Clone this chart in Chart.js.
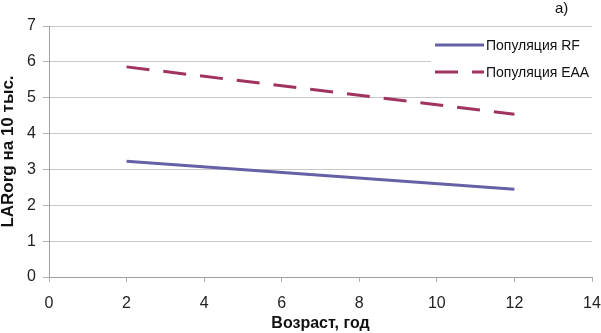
<!DOCTYPE html>
<html>
<head>
<meta charset="utf-8">
<script src="https://cdn.jsdelivr.net/npm/chart.js@4.4.0/dist/chart.umd.min.js"></script>
<style>
html,body{margin:0;padding:0;background:#fff;}
#wrap{width:601px;height:333px;}
</style>
</head>
<body>
<div id="wrap"><canvas id="c" width="601" height="333"></canvas></div>
<script>
const ages = [2, 12];
const rfValues = [3.23, 2.45];
const eaaValues = [5.86, 4.54];
const seriesLabels = ['Популяция RF', 'Популяция EAA'];
const xTitle = 'Возраст, год';
const yTitle = 'LARorg на 10 тыс.';
const panelLabel = 'а)';

const FONT = "'Liberation Sans', Arial, sans-serif";

const legendPlugin = {
  id: 'insideLegend',
  afterDatasetsDraw(chart) {
    const ctx = chart.ctx;
    ctx.save();
    ctx.fillStyle = '#fff';
    ctx.fillRect(431, 34, 165, 50);
    const rows = [45, 72];
    chart.data.datasets.forEach((ds, i) => {
      const y = rows[i];
      ctx.strokeStyle = ds.borderColor;
      ctx.lineWidth = ds.borderWidth;
      ctx.setLineDash(ds.borderDash || []);
      ctx.beginPath();
      ctx.moveTo(435, y);
      ctx.lineTo(484, y);
      ctx.stroke();
      ctx.setLineDash([]);
      ctx.fillStyle = '#111';
      ctx.font = '14px ' + FONT;
      ctx.textBaseline = 'middle';
      ctx.textAlign = 'left';
      ctx.fillText(ds.label, 486, y + 1);
    });
    ctx.font = '15px ' + FONT;
    ctx.fillStyle = '#111';
    ctx.textAlign = 'left';
    ctx.textBaseline = 'middle';
    ctx.fillText(panelLabel, 555, 9);
    ctx.restore();
  }
};

new Chart(document.getElementById('c'), {
  type: 'scatter',
  data: {
    datasets: [
      {
        label: seriesLabels[0],
        data: ages.map((a, i) => ({x: a, y: rfValues[i]})),
        showLine: true,
        borderColor: '#6561a6',
        backgroundColor: '#6561a6',
        borderWidth: 3,
        pointRadius: 0,
        borderCapStyle: 'butt'
      },
      {
        label: seriesLabels[1],
        data: ages.map((a, i) => ({x: a, y: eaaValues[i]})),
        showLine: true,
        borderColor: '#a0335f',
        backgroundColor: '#a0335f',
        borderWidth: 3,
        borderDash: [23, 14],
        pointRadius: 0,
        borderCapStyle: 'butt'
      }
    ]
  },
  options: {
    responsive: false,
    animation: false,
    layout: {padding: {left: 0, right: 9, top: 26, bottom: 0}},
    plugins: {legend: {display: false}, tooltip: {enabled: false}},
    scales: {
      x: {
        type: 'linear',
        min: 0, max: 14,
        ticks: {stepSize: 2, color: '#222', font: {family: FONT, size: 16}, padding: 12, maxRotation: 0},
        grid: {drawOnChartArea: false, color: '#b0b0b0', tickLength: 5, tickColor: '#b0b0b0'},
        border: {color: '#a0a0a0'},
        title: {display: true, text: xTitle, color: '#111', font: {family: FONT, size: 16, weight: 'bold', lineHeight: 1}, padding: {top: 0, bottom: 1}},
        afterFit(s) { s.height = 56; s.paddingLeft = 0; s.paddingRight = 0; }
      },
      y: {
        min: 0, max: 7,
        ticks: {stepSize: 1, color: '#222', font: {family: FONT, size: 16}, padding: 7},
        grid: {color: '#c8c8c8', tickLength: 6, tickColor: '#b0b0b0'},
        border: {color: '#a0a0a0'},
        title: {display: true, text: yTitle, color: '#111', font: {family: FONT, size: 17, weight: 'bold', lineHeight: 1}, padding: {top: 0, bottom: 0}},
        afterFit(s) { s.width = 49; s.paddingTop = 0; s.paddingBottom = 0; }
      }
    }
  },
  plugins: [legendPlugin]
});
</script>
</body>
</html>
